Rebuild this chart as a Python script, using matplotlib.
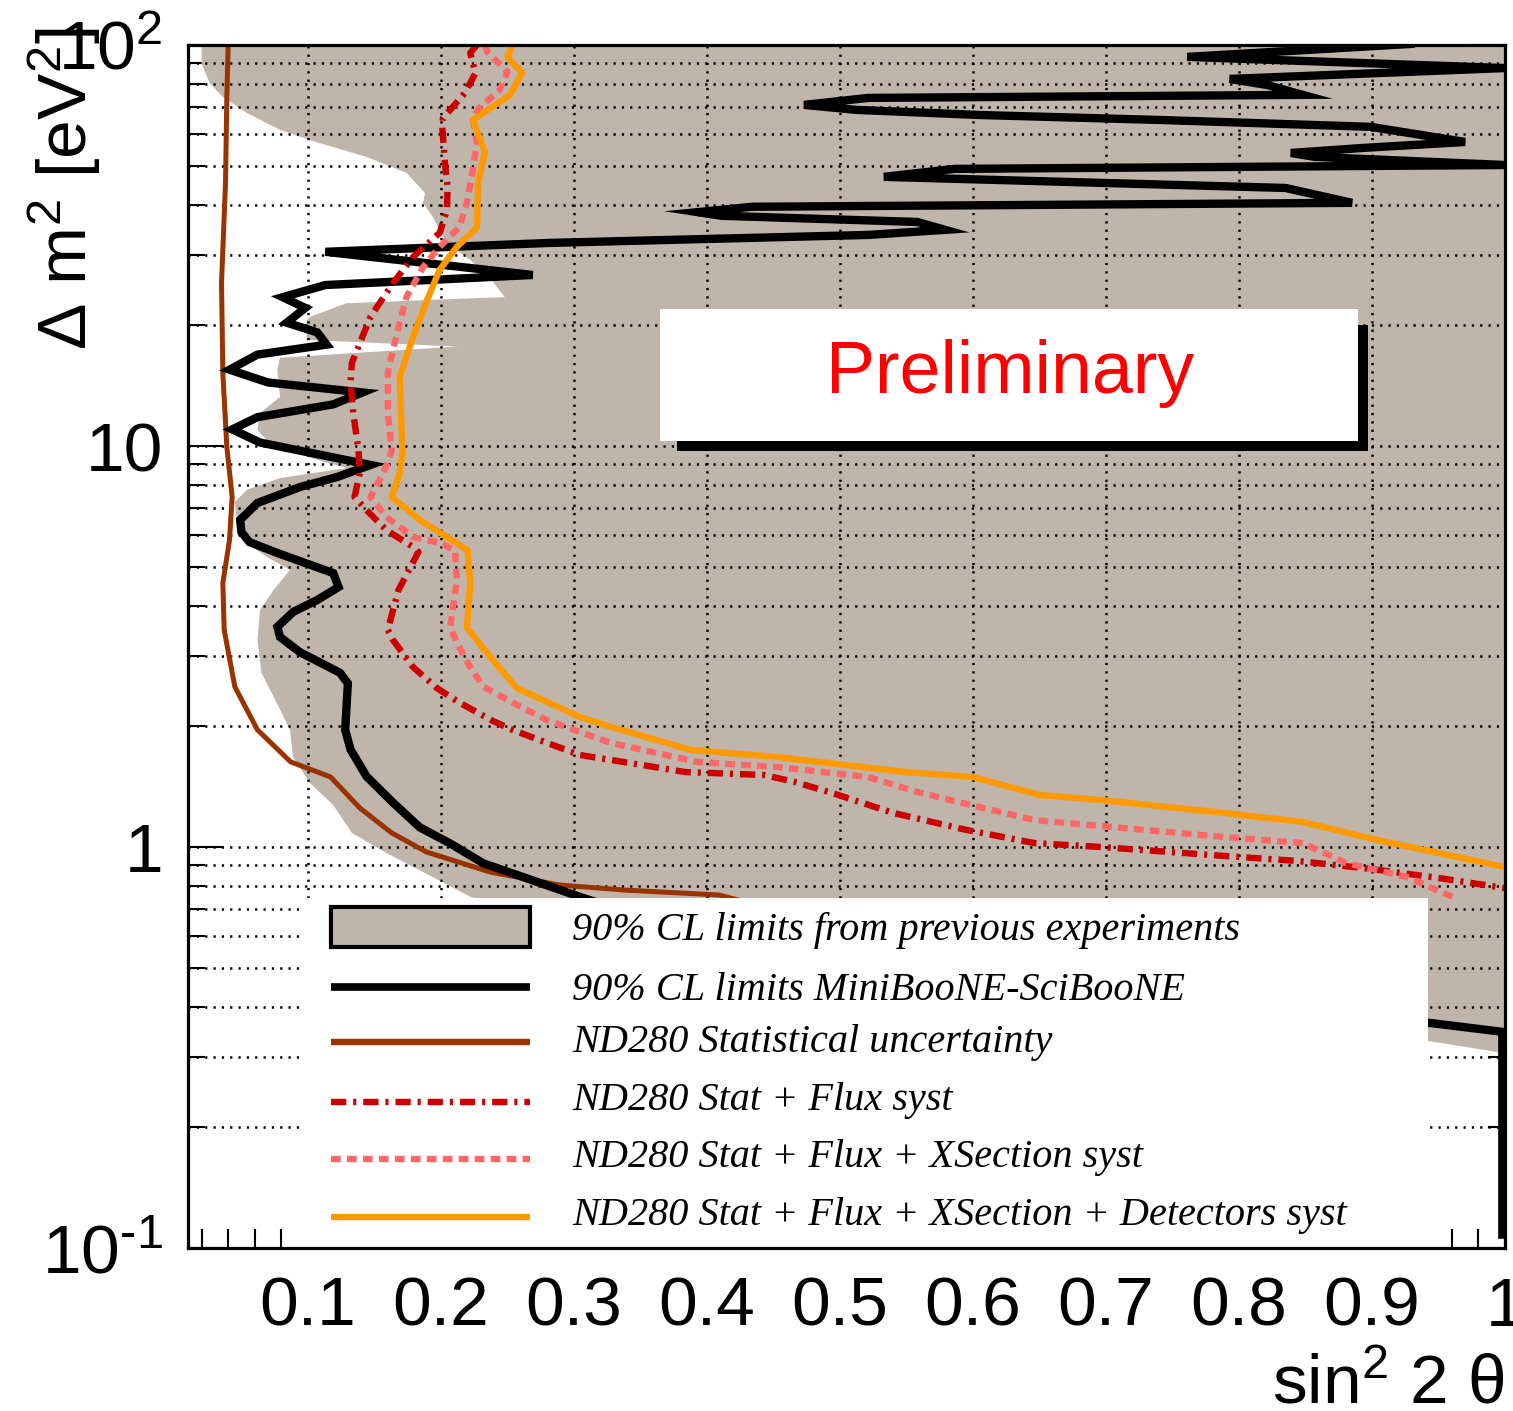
import numpy as np
import matplotlib
matplotlib.use("Agg")
import matplotlib.pyplot as plt
from matplotlib.patches import Rectangle
from matplotlib.lines import Line2D
from matplotlib.ticker import MultipleLocator, LogLocator, FuncFormatter, NullFormatter

# ---------------- data: sin^2(2theta) vs Delta m^2 [eV^2] ----------------
# 90% CL region excluded by previous experiments (left boundary, then closed on the right)
prev_x = [0.020, 0.020, 0.026, 0.036, 0.054, 0.079, 0.109, 0.144, 0.174, 0.184,
          0.188, 0.1865, 0.194, 0.199, 0.2045, 0.222, 0.237, 0.248, 0.229, 0.129,
          0.1015, 0.099, 0.099, 0.212, 0.079, 0.077, 0.079, 0.064, 0.062, 0.074,
          0.129, 0.079, 0.054, 0.045, 0.047, 0.054, 0.069, 0.0865, 0.074, 0.064,
          0.062, 0.065, 0.079, 0.0865, 0.0887, 0.1015, 0.119, 0.133, 0.159, 0.188,
          0.2226, 0.35, 0.55, 0.77, 0.943, 1.0, 1.0]
prev_dm2 = [100, 90.0, 80.4, 74.2, 67.7, 61.4, 56.9, 52.6, 48.0, 44.2,
            42.7, 40.4, 37.2, 34.6, 32.1, 29.1, 26.2, 23.5, 23.4, 22.7,
            21.0, 20.6, 18.4, 17.7, 16.6, 15.5, 13.25, 12.1, 10.96, 9.94,
            8.81, 8.32, 7.77, 7.25, 6.28, 5.73, 5.29, 4.91, 4.37, 3.90,
            3.28, 2.72, 2.20, 1.958, 1.677, 1.444, 1.272, 1.084, 0.966, 0.861,
            0.750, 0.62, 0.48, 0.40, 0.328, 0.306, 100]

# MiniBooNE-SciBooNE 90% CL limit
mb_x = [0.998, 0.998, 0.944, 0.77, 0.545, 0.395, 0.305, 0.267, 0.232, 0.207,
        0.184, 0.164, 0.144, 0.132, 0.128, 0.130, 0.124, 0.094, 0.079, 0.077,
        0.089, 0.107, 0.123, 0.119, 0.077, 0.056, 0.050, 0.049, 0.062, 0.094,
        0.122, 0.147, 0.064, 0.043, 0.062, 0.119, 0.141, 0.070, 0.041, 0.062,
        0.114, 0.107, 0.084, 0.098, 0.081, 0.113, 0.269, 0.113, 0.282, 0.521,
        0.579, 0.558, 0.411, 0.393, 0.434, 0.885, 0.835, 0.533, 0.586,
        1.0, 0.857, 0.839, 0.894, 0.970, 0.899, 0.742, 0.605, 0.512, 0.473,
        0.521, 0.848, 0.821, 0.793, 1.0, 0.761, 0.929]
mb_dm2 = [0.108, 0.346, 0.364, 0.40, 0.49, 0.60, 0.75, 0.83, 0.91, 1.02,
          1.12, 1.29, 1.50, 1.75, 1.96, 2.56, 2.72, 3.06, 3.34, 3.54,
          3.86, 4.13, 4.45, 4.82, 5.41, 5.76, 6.10, 6.54, 7.21, 7.90,
          8.37, 8.97, 10.2, 11.0, 11.8, 12.7, 13.6, 14.4, 15.5, 16.9,
          17.9, 19.2, 20.3, 22.1, 23.5, 25.2, 26.7, 30.5, 32.1, 33.6,
          34.6, 36.2, 37.5, 38.3, 39.5, 40.4, 44.0, 46.9, 49.1,
          50.2, 52.6, 53.8, 55.4, 57.3, 62.5, 65.0, 66.9, 68.9, 70.9,
          73.8, 75.1, 79.5, 82.3, 87.6, 93.4, 100.6]

# ND280 sensitivity: statistical uncertainty only
stat_x = [0.040, 0.039, 0.038, 0.035, 0.036, 0.039, 0.043, 0.041, 0.036, 0.037,
          0.045, 0.062, 0.087, 0.117, 0.139, 0.163, 0.189, 0.237, 0.289, 0.338,
          0.409, 0.45]
stat_dm2 = [100, 74.2, 45.3, 25.5, 15.2, 9.94, 7.46, 5.83, 4.55, 3.48,
            2.51, 1.96, 1.63, 1.495, 1.251, 1.084, 0.972, 0.866, 0.804, 0.781,
            0.759, 0.70]

# ND280: stat + flux systematics
flux_x = [0.227, 0.222, 0.226, 0.218, 0.2015, 0.201, 0.203, 0.205, 0.2045, 0.199,
          0.179, 0.164, 0.147, 0.133, 0.132, 0.134, 0.138, 0.139, 0.135, 0.144,
          0.159, 0.179, 0.183, 0.168, 0.160, 0.164, 0.179, 0.197, 0.214, 0.238,
          0.254, 0.280, 0.3045, 0.328, 0.3835, 0.443, 0.466, 0.494, 0.540, 0.595,
          0.646, 0.696, 0.789, 0.844, 0.899, 0.950, 1.0]
flux_dm2 = [100, 95.5, 85.2, 75.9, 65.7, 62.4, 50.8, 44.2, 38.8, 34.0,
            29.6, 25.5, 21.0, 16.1, 14.4, 12.1, 9.77, 8.56, 7.46, 6.92,
            6.17, 5.60, 5.44, 4.37, 3.48, 3.28, 2.81, 2.49, 2.29, 2.07,
            1.958, 1.817, 1.696, 1.648, 1.538, 1.512, 1.453, 1.364, 1.216, 1.103,
            1.023, 1.0, 0.950, 0.923, 0.882, 0.837, 0.79]

# ND280: stat + flux + cross-section systematics
xsec_x = [0.233, 0.235, 0.250, 0.244, 0.229, 0.224, 0.227, 0.224, 0.2195, 0.214,
          0.199, 0.1865, 0.174, 0.169, 0.164, 0.160, 0.160, 0.163, 0.160, 0.154,
          0.147, 0.159, 0.179, 0.199, 0.2105, 0.212, 0.207, 0.212, 0.222, 0.232,
          0.254, 0.280, 0.3045, 0.328, 0.3925, 0.4526, 0.521, 0.558, 0.6045, 0.646,
          0.696, 0.789, 0.848, 0.8805, 0.926, 0.961]
xsec_dm2 = [100, 96.0, 85.6, 77.2, 69.7, 65.7, 57.0, 48.8, 40.4, 35.2,
            31.4, 27.9, 23.5, 20.3, 17.4, 15.2, 12.1, 9.77, 9.07, 8.23,
            7.46, 6.65, 5.93, 5.73, 5.50, 4.63, 3.54, 3.23, 2.81, 2.51,
            2.29, 2.07, 1.935, 1.817, 1.63, 1.583, 1.495, 1.372, 1.258, 1.168,
            1.128, 1.059, 1.023, 0.912, 0.842, 0.750]

# ND280: stat + flux + cross-section + detector systematics
det_x = [0.254, 0.250, 0.261, 0.252, 0.224, 0.233, 0.228, 0.227, 0.212, 0.199,
         0.1895, 0.179, 0.169, 0.171, 0.169, 0.163, 0.184, 0.220, 0.222, 0.2195,
         0.237, 0.257, 0.3045, 0.328, 0.388, 0.4526, 0.549, 0.600, 0.650, 0.696,
         0.789, 0.848, 0.904, 1.0]
det_dm2 = [100, 93.4, 85.2, 75.1, 65.0, 54.1, 45.3, 35.0, 31.4, 27.5,
           23.1, 18.7, 14.9, 9.61, 8.56, 7.46, 6.54, 5.50, 4.55, 3.52,
           2.98, 2.49, 2.11, 1.992, 1.746, 1.677, 1.538, 1.495, 1.348, 1.310,
           1.216, 1.154, 1.041, 0.891]

legend_labels = ["90% CL limits from previous experiments",
                 "90% CL limits MiniBooNE-SciBooNE",
                 "ND280 Statistical uncertainty",
                 "ND280 Stat + Flux syst",
                 "ND280 Stat + Flux + XSection syst",
                 "ND280 Stat + Flux + XSection + Detectors syst"]

# ---------------- style ----------------
plt.rcParams["font.family"] = ["Liberation Sans", "DejaVu Sans"]
plt.rcParams["mathtext.fontset"] = "custom"
plt.rcParams["mathtext.rm"] = "Liberation Sans"
plt.rcParams["mathtext.it"] = "Liberation Sans:italic"
plt.rcParams["mathtext.bf"] = "Liberation Sans:bold"
plt.rcParams["lines.scale_dashes"] = False

GRAY = "#bfb5aa"
C_MB = "black"
C_STAT = "#993300"
C_FLUX = "#cc0000"
C_XSEC = "#ff6666"
C_DET = "#ff9900"
LS_FLUX = (0, (11.0, 5.0, 2.2, 5.0))
LS_XSEC = (0, (7.0, 4.5))
GRID_LS = (0, (1.6, 4.4))

W, H = 1513, 1411
fig = plt.figure(figsize=(W / 100, H / 100), dpi=100)
ax = fig.add_axes([188 / W, 1 - 1248 / H, 1317 / W, 1203 / H])
ax.set_xlim(0.0098, 1.0)
ax.set_yscale("log")
ax.set_ylim(0.1, 100)
ax.set_axisbelow(True)

# excluded region from earlier experiments
ax.fill(prev_x, prev_dm2, color=GRAY, lw=0, zorder=1)

# dotted grid
for xv in np.arange(1, 10) * 0.1:
    ax.axvline(xv, color="black", lw=1.8, ls=GRID_LS, zorder=2)
for dec in (0.1, 1, 10):
    for m in range(1, 10):
        yv = m * dec
        if 0.1 < yv < 100:
            ax.axhline(yv, color="black", lw=1.8, ls=GRID_LS, zorder=2)

# contours
ax.plot(stat_x, stat_dm2, color=C_STAT, lw=3.6, zorder=3)
ax.plot(mb_x, mb_dm2, color=C_MB, lw=6.0, zorder=3.2, solid_joinstyle="miter")
ax.plot(flux_x, flux_dm2, color=C_FLUX, lw=4.6, ls=LS_FLUX, zorder=3.3)
ax.plot(xsec_x, xsec_dm2, color=C_XSEC, lw=4.6, ls=LS_XSEC, zorder=3.4)
ax.plot(det_x, det_dm2, color=C_DET, lw=4.6, zorder=3.5)

# axes, ticks
for s in ax.spines.values():
    s.set_linewidth(2.3)
    s.set_zorder(10)
ax.xaxis.set_major_locator(MultipleLocator(0.1))
ax.xaxis.set_minor_locator(MultipleLocator(0.02))
ax.xaxis.set_major_formatter(FuncFormatter(lambda v, p: "%g" % round(v, 2)))
ax.yaxis.set_major_locator(LogLocator(base=10))
ax.yaxis.set_minor_locator(LogLocator(base=10, subs=np.arange(2, 10)))
ax.yaxis.set_minor_formatter(NullFormatter())
ylabels = {0.1: r"10$^{\text{-}1}$", 1.0: "1", 10.0: "10", 100.0: "10$^{2}$"}
ax.yaxis.set_major_formatter(FuncFormatter(
    lambda v, p: ylabels.get(round(v, 3), "")))
ax.tick_params(which="both", direction="in", top=False, right=True,
               width=1.5, labelsize=50, colors="black")
ax.tick_params(axis="x", which="major", length=27, pad=20)
ax.tick_params(axis="x", which="minor", length=13.7)
ax.tick_params(axis="y", which="major", length=25, pad=18)
ax.tick_params(axis="y", which="minor", length=12)

# axis titles
fig.text(65 / W, 1 - 28 / H, "Δ m$^{2}$ [eV$^{2}$]", rotation=90,
         ha="center", va="top", fontsize=50)
fig.text(1505 / W, 1 - 1403 / H, "sin$^{2}$ 2 θ", ha="right",
         va="baseline", fontsize=50)

# "Preliminary" tag with drop shadow
T = ax.transAxes
ax.add_patch(Rectangle((0.3713, 0.6625), 0.5247, 0.1047, transform=T,
                       facecolor="black", edgecolor="none", zorder=5))
ax.add_patch(Rectangle((0.3584, 0.6708), 0.5300, 0.1097, transform=T,
                       facecolor="white", edgecolor="none", zorder=5.1))
ax.text(0.624, 0.727, "Preliminary", transform=T, color="#ff0000",
        fontsize=53, ha="center", va="center", zorder=6)

# legend
ax.add_patch(Rectangle((0.0866, -0.01), 0.8549, 0.3009, transform=T,
                       facecolor="white", edgecolor="none", zorder=5,
                       clip_on=False))
x0, x1 = 0.1086, 0.2597
ax.add_patch(Rectangle((x0, 0.2502), x1 - x0, 0.0333, transform=T,
                       facecolor=GRAY, edgecolor="black", lw=3.0, zorder=6))
sample_y = [0.2170, 0.1712, 0.1213, 0.0740, 0.0258]
sample_style = [dict(color=C_MB, lw=5.5),
                dict(color=C_STAT, lw=4.6),
                dict(color=C_FLUX, lw=4.6, ls=LS_FLUX),
                dict(color=C_XSEC, lw=4.6, ls=LS_XSEC),
                dict(color=C_DET, lw=4.6)]
for yv, st in zip(sample_y, sample_style):
    ax.add_line(Line2D([x0, x1], [yv, yv], transform=T, zorder=6,
                       solid_capstyle="butt", dash_capstyle="butt", **st))
text_y = [0.2560, 0.2062, 0.1629, 0.1147, 0.0673, 0.0191]
for yv, lab in zip(text_y, legend_labels):
    ax.text(0.2916, yv, lab, transform=T, fontsize=29, va="baseline",
            ha="left", family="Liberation Serif", style="italic", zorder=6)

fig.savefig("out.png", dpi=100)
